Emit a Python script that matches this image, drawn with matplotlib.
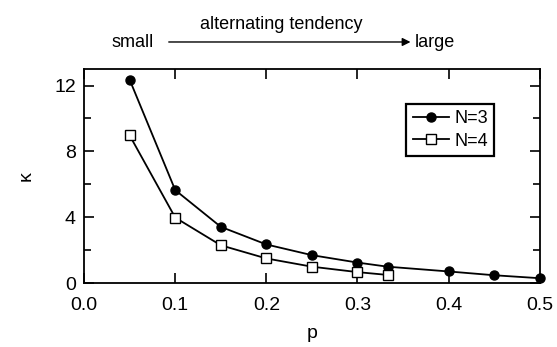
import matplotlib.pyplot as plt

plt.rcParams['font.family'] = ['Liberation Sans', 'DejaVu Sans']

# data
p3 = [0.05, 0.1, 0.15, 0.2, 0.25, 0.3, 0.333, 0.4, 0.45, 0.5]
k3 = [12.35, 5.65, 3.42, 2.35, 1.7, 1.25, 1.0, 0.71, 0.48, 0.3]
p4 = [0.05, 0.1, 0.15, 0.2, 0.25, 0.3, 0.333]
k4 = [8.97, 3.98, 2.3, 1.5, 1.0, 0.67, 0.5]

fig = plt.figure(figsize=(5.57, 3.47), dpi=100)
ax = fig.add_axes([0.151, 0.184, 0.818, 0.617])

ax.plot(p3, k3, color='black', linewidth=1.3, marker='o', markersize=6.5,
        markerfacecolor='black', label='N=3', clip_on=False, zorder=3)
ax.plot(p4, k4, color='black', linewidth=1.3, marker='s', markersize=6.5,
        markerfacecolor='white', label='N=4', clip_on=False, zorder=3)

ax.set_xlim(0, 0.5)
ax.set_ylim(0, 13)
ax.set_xticks([0.0, 0.1, 0.2, 0.3, 0.4, 0.5])
ax.set_xticklabels(['0.0', '0.1', '0.2', '0.3', '0.4', '0.5'])
ax.set_yticks([0, 4, 8, 12])
ax.set_yticks([2, 6, 10], minor=True)
ax.tick_params(axis='both', which='both', direction='in', top=True, right=True,
               labelsize=14, width=1.2)
ax.tick_params(which='major', length=7)
ax.tick_params(which='minor', length=5)
ax.tick_params(axis='x', pad=10)
ax.tick_params(axis='y', pad=6)
for s in ax.spines.values():
    s.set_linewidth(1.3)

ax.set_xlabel('p', fontsize=14, labelpad=8)
ax.set_ylabel('κ', fontsize=14, labelpad=14)

leg = ax.legend(loc='upper right', bbox_to_anchor=(0.92, 0.88), fontsize=13,
                fancybox=False, framealpha=1, edgecolor='black',
                handlelength=2.0, handletextpad=0.3, borderpad=0.35,
                labelspacing=0.3)
leg.get_frame().set_linewidth(1.6)

# top annotation
fig.text(0.505, 0.928, 'alternating tendency', ha='center', va='center', fontsize=13)
fig.text(0.276, 0.877, 'small', ha='right', va='center', fontsize=13)
fig.text(0.745, 0.877, 'large', ha='left', va='center', fontsize=13)
fig.add_artist(plt.matplotlib.patches.FancyArrowPatch(
    (0.298, 0.879), (0.742, 0.879), transform=fig.transFigure,
    arrowstyle='-|>', mutation_scale=12, color='black', linewidth=1))

fig.savefig('out.png', dpi=100)
